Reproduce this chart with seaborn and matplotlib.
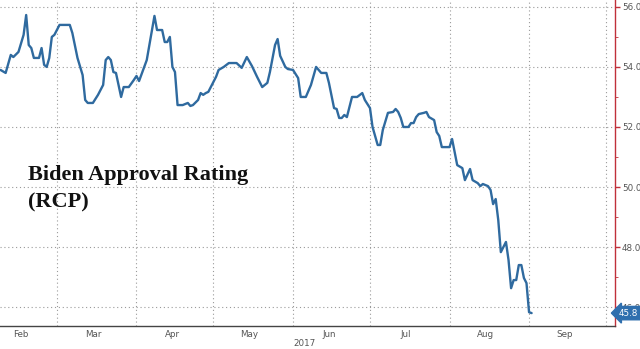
import matplotlib
matplotlib.use("Agg")
import matplotlib.pyplot as plt
import matplotlib.dates as mdates
import matplotlib.transforms as mtrans
import seaborn as sns
import pandas as pd

# ---- data ----
dates = [
    "02-07", "02-09", "02-11", "02-12", "02-14", "02-16", "02-17", "02-18", "02-19", "02-20",
    "02-22", "02-23", "02-24", "02-25", "02-26", "02-27", "02-28", "03-02", "03-06", "03-07",
    "03-09", "03-11", "03-12", "03-13", "03-15", "03-17", "03-19", "03-20", "03-21", "03-22",
    "03-23", "03-24", "03-26", "03-27", "03-29", "03-31", "04-01", "04-02", "04-05", "04-08",
    "04-09", "04-11", "04-12", "04-13", "04-14", "04-15", "04-16", "04-17", "04-19", "04-21",
    "04-22", "04-23", "04-25", "04-26", "04-27", "04-28", "04-29", "05-02", "05-03", "05-05",
    "05-07", "05-10", "05-12", "05-14", "05-16", "05-18", "05-20", "05-22", "05-23", "05-25",
    "05-26", "05-27", "05-29", "05-30", "06-01", "06-03", "06-04", "06-06", "06-08", "06-10",
    "06-12", "06-14", "06-15", "06-17", "06-18", "06-19", "06-20", "06-21", "06-22", "06-24",
    "06-26", "06-28", "06-29", "07-01", "07-02", "07-04", "07-05", "07-06", "07-08", "07-10",
    "07-11", "07-12", "07-13", "07-14", "07-16", "07-17", "07-18", "07-19", "07-20", "07-22",
    "07-23", "07-24", "07-26", "07-27", "07-28", "07-29", "08-01", "08-02", "08-04", "08-06",
    "08-07", "08-09", "08-10", "08-12", "08-13", "08-14", "08-16", "08-17", "08-18", "08-19",
    "08-20", "08-21", "08-23", "08-24", "08-25", "08-26", "08-27", "08-28", "08-29", "08-30",
    "08-31", "09-01", "09-02",
]
approval = [
    53.90, 53.80, 54.40, 54.33, 54.50, 55.07, 55.73, 54.73, 54.63, 54.30,
    54.30, 54.63, 54.07, 54.00, 54.30, 55.00, 55.07, 55.40, 55.40, 55.13,
    54.30, 53.73, 52.90, 52.80, 52.80, 53.07, 53.40, 54.23, 54.33, 54.23,
    53.83, 53.80, 53.00, 53.33, 53.33, 53.57, 53.70, 53.53, 54.23, 55.70,
    55.23, 55.23, 54.83, 54.83, 55.00, 54.00, 53.83, 52.73, 52.73, 52.80,
    52.70, 52.73, 52.90, 53.13, 53.07, 53.13, 53.17, 53.67, 53.90, 54.00,
    54.13, 54.13, 53.97, 54.33, 54.03, 53.67, 53.33, 53.47, 53.83, 54.73,
    54.93, 54.37, 54.00, 53.93, 53.90, 53.63, 53.00, 53.00, 53.40, 54.00,
    53.80, 53.80, 53.47, 52.63, 52.60, 52.30, 52.30, 52.40, 52.33, 53.00,
    53.00, 53.13, 52.90, 52.63, 52.00, 51.40, 51.40, 51.90, 52.47, 52.50,
    52.60, 52.50, 52.30, 52.00, 52.00, 52.13, 52.13, 52.33, 52.43, 52.47,
    52.50, 52.33, 52.23, 51.83, 51.70, 51.33, 51.33, 51.60, 50.73, 50.63,
    50.23, 50.60, 50.23, 50.13, 50.03, 50.10, 50.03, 49.90, 49.43, 49.60,
    48.90, 47.83, 48.17, 47.57, 46.63, 46.90, 46.90, 47.40, 47.40, 46.97,
    46.80, 45.83, 45.80,
]
y_ticks = [46.0, 48.0, 50.0, 52.0, 54.0, 56.0]
title_lines = ["Biden Approval Rating", "(RCP)"]
year_label = "2017"
last_label = "45.8"

df = pd.DataFrame({"date": pd.to_datetime(["2017-" + d for d in dates]),
                   "approval": approval})

# ---- figure ----
sns.set_style("white")
W, H = 640, 349
fig = plt.figure(figsize=(W / 100, H / 100), dpi=100)
ax = fig.add_axes([0, (H - 326) / H, 615 / W, 326 / H])

sns.lineplot(data=df, x="date", y="approval", ax=ax, color="#2f6a9f", linewidth=1.7)

x0 = pd.Timestamp("2017-02-01")
ax.set_xlim(x0 + pd.Timedelta(days=5.8), x0 + pd.Timedelta(days=245.5))
ax.set_ylim(45.37, 56.23)

# axes / spines
for s in ("top", "left"):
    ax.spines[s].set_visible(False)
ax.spines["bottom"].set_color("#444444")
ax.spines["bottom"].set_linewidth(1.0)
ax.spines["right"].set_color("#c0303a")
ax.spines["right"].set_linewidth(1.0)

ax.set_xlabel("")
ax.set_ylabel("")

# x ticks: month starts (ticks + grid), mid-month labels
ax.xaxis.set_major_locator(mdates.MonthLocator())
ax.xaxis.set_major_formatter(plt.NullFormatter())
ax.xaxis.set_minor_locator(mdates.MonthLocator(bymonthday=15))
ax.xaxis.set_minor_formatter(mdates.DateFormatter("%b"))
ax.tick_params(axis="x", which="major", direction="out", length=3.5, width=0.8,
               color="#444444")
ax.tick_params(axis="x", which="minor", length=0, pad=3, labelsize=6.3,
               labelcolor="#555555")

# y axis on the right
ax.yaxis.tick_right()
ax.set_yticks(y_ticks)
ax.set_yticklabels([f"{v:.1f}" for v in y_ticks])
ax.set_yticks([47.0, 49.0, 51.0, 53.0, 55.0], minor=True)
ax.tick_params(axis="y", which="major", direction="out", length=3.5, width=1.0,
               color="#c0303a", labelsize=6.3, labelcolor="#555555", pad=1.5)
ax.tick_params(axis="y", which="minor", direction="out", length=2, width=0.6,
               color="#c0303a")

ax.grid(True, which="major", axis="both", linestyle=(0, (1, 2.5)),
        color="#9a9a9a", linewidth=0.8)

# last value tag
trans = mtrans.blended_transform_factory(ax.transAxes, ax.transData)
ax.text(1.006, approval[-1], last_label, transform=trans, ha="left", va="center",
        fontsize=6.3, color="white",
        bbox=dict(boxstyle="larrow,pad=0.25", facecolor="#2f6fae",
                  edgecolor="#2f6fae"))

# title
fig.text(28 / W, 1 - 180 / H, title_lines[0], fontsize=16, fontweight="bold",
         family="Liberation Serif", color="#111111", va="baseline", ha="left")
fig.text(28 / W, 1 - 207 / H, title_lines[1], fontsize=16, fontweight="bold",
         family="Liberation Serif", color="#111111", va="baseline", ha="left")

# year label
fig.text(305 / W, 1 - 344 / H, year_label, fontsize=6.3, color="#555555",
         ha="center", va="center")

fig.savefig("out.png", dpi=100)
